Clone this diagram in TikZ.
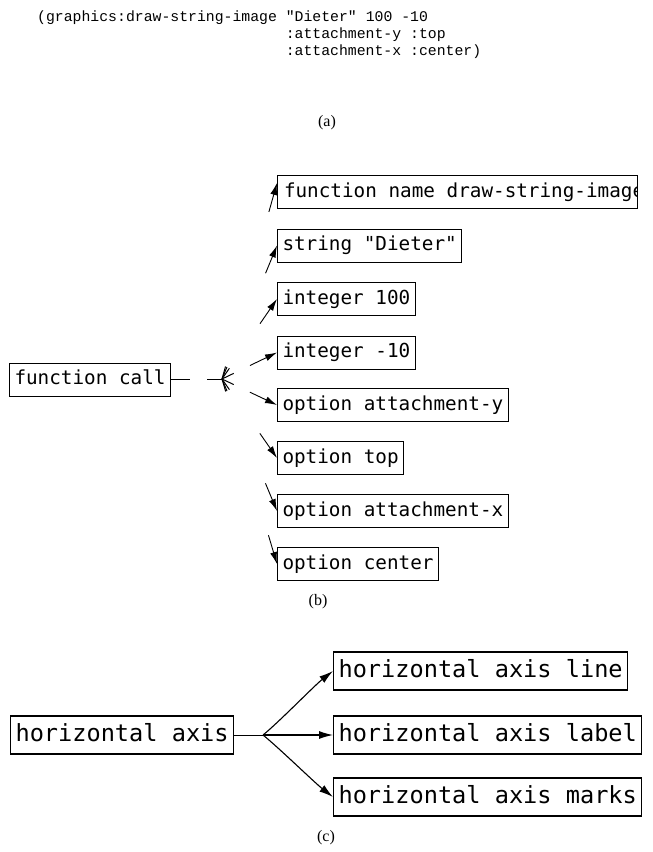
\documentclass[tikz,border=0pt]{standalone}
\usepackage{fontspec}
\setmainfont{Liberation Serif}
\setmonofont{Liberation Mono}
\newfontfamily\boxfont{DejaVu Sans Mono}[Ligatures=TeXOff]
\usetikzlibrary{arrows.meta,calc}
\tikzset{
  bbox/.style={draw, line width=1pt, font=\boxfont\fontsize{19.3}{22}\selectfont,
    inner xsep=5pt, inner ysep=0pt, minimum height=33pt,
    text height=14.6pt, text depth=4.6pt, anchor=west},
  cbox/.style={draw, line width=1.1pt, font=\boxfont\fontsize{23.6}{27}\selectfont,
    inner xsep=5pt, inner ysep=0pt, minimum height=38pt,
    text height=17.9pt, text depth=5.7pt, anchor=west},
  codetext/.style={font=\ttfamily\fontsize{14.8}{17}\selectfont, inner sep=0pt, anchor=base west},
  caption/.style={font=\fontsize{16}{18}\selectfont, inner sep=0pt},
  spoke/.style={line width=1pt},
  barrow/.style={line width=0.9pt, -{Latex[length=12pt,width=7pt]}},
  carrow/.style={line width=1.1pt, -{Latex[length=14pt,width=8pt]}},
  plainline/.style={line width=1pt}
}
\begin{document}
\begin{tikzpicture}[x=1pt,y=-1pt]
\useasboundingbox (0,0) rectangle (653,852);
% (a)
\node[codetext] (a1) at (37,21) {(graphics:draw-string-image "Dieter" 100 -10};
\node[codetext] (a2) at (285.6,38) {:attachment-y :top};
\node[codetext] (a3) at (285.6,55) {:attachment-x :center)};
\node[caption] (la) at (327,123) {(a)};
% (b)
\node[bbox] (fc) at (9,379.5) {function call};
\coordinate (J) at (222,379);
\draw[plainline] (fc.east) -- ++(19,0);
\draw[plainline] (J) -- ++(-15,0);
\node[bbox, minimum width=360pt,
  path picture={\node[draw=none, inner sep=0pt, anchor=west,
    font=\boxfont\fontsize{19.3}{22}\selectfont, text height=14.6pt, text depth=4.6pt]
    at ([xshift=6pt]path picture bounding box.west) {function name draw-string-image};}]
  (b1) at (277,192) {};
\node[bbox] (b2) at (277,245.5) {string "Dieter"};
\node[bbox] (b3) at (277,299) {integer 100};
\node[bbox] (b4) at (277,352.5) {integer -10};
\node[bbox] (b5) at (277,405) {option attachment-y};
\node[bbox] (b6) at (277,458) {option top};
\node[bbox] (b7) at (277,511) {option attachment-x};
\node[bbox] (b8) at (277,564) {option center};
\coordinate (t1) at ([yshift=-8pt]b1.north west);
\foreach \n in {2,...,8} \coordinate (t\n) at (b\n.west);
\foreach \n in {1,...,8} {
  \draw[spoke] (J) -- ($(J)!13pt!(t\n)$);
  \draw[barrow] ($(t\n)!30pt!(J)$) -- (t\n);
}
\node[caption] (lb) at (318,602) {(b)};
% (c)
\node[cbox] (h) at (10,735) {horizontal axis};
\coordinate (J2) at (263,735);
\node[cbox] (c1) at (333,671) {horizontal axis line};
\node[cbox] (c2) at (333,735) {horizontal axis label};
\node[cbox] (c3) at (333,797) {horizontal axis marks};
\draw[plainline] (h.east) -- (J2);
\draw[carrow] (J2) .. controls +(15,-12) and +(-18,14) .. (c1.west);
\draw[carrow] (J2) -- (c2.west);
\draw[carrow] (J2) .. controls +(15,12) and +(-18,-14) .. (c3.west);
\node[caption] (lc) at (326,838) {(c)};
\end{tikzpicture}
\end{document}
